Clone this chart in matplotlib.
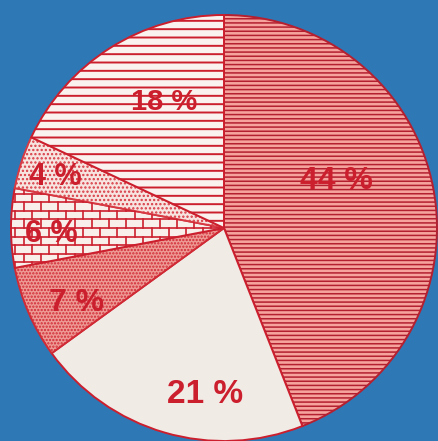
import matplotlib
matplotlib.use("Agg")
import matplotlib.pyplot as plt
import numpy as np

# slices clockwise from 12 o'clock
shares = [44, 21, 7, 6, 4, 18]
labels = ["44 %", "21 %", "7 %", "6 %", "4 %", "18 %"]
# label centres, in pie radii from the centre
label_xy = [(0.53, 0.22), (-0.09, -0.78), (-0.69, -0.35),
            (-0.81, -0.03), (-0.79, 0.24), (-0.28, 0.59)]
label_size = [23, 24, 23, 22, 22, 21]

BLUE = "#2f78b6"
RED = "#cc1f2e"
fills = ["#f5a39c", "#f1ebe6", "#ee9a95", "#f8eeea", "#f7e4e0", "#faf2ee"]
hatches = ["----", None, ".....", None, "....", "--"]
hatch_colors = ["#b52030", RED, "#d02a35", RED, "#d83a44", RED]

fig = plt.figure(figsize=(4.39, 4.41), dpi=100)
fig.patch.set_facecolor(BLUE)
ax = fig.add_axes([0, 0, 1, 1])
ax.set_facecolor(BLUE)

wedges, _ = ax.pie(shares, startangle=90, counterclock=False, radius=1.0,
                   colors=fills, wedgeprops=dict(linewidth=1.4))
for w, h, c in zip(wedges, hatches, hatch_colors):
    w.set_edgecolor(c)
    if h:
        w.set_hatch(h)
    if hasattr(w, "set_hatch_linewidth"):
        w.set_hatch_linewidth(1.4 if h == "--" else 1.1)

# brick pattern for the 6 % slice, clipped to its wedge
brick = wedges[3]
row_h, brick_w = 0.04, 0.08
for i, y in enumerate(np.arange(-0.4, 0.4, row_h)):
    ln, = ax.plot([-1.1, 0.1], [y, y], color=RED, lw=1.2)
    ln.set_clip_path(brick)
    off = 0 if i % 2 == 0 else brick_w / 2
    for x in np.arange(-1.1 + off, 0.1, brick_w):
        seg, = ax.plot([x, x], [y, y + row_h], color=RED, lw=1.2)
        seg.set_clip_path(brick)

for (x, y), txt, fs in zip(label_xy, labels, label_size):
    ax.text(x, y, txt, ha="center", va="center", color=RED, fontsize=fs,
            fontweight="bold", family=["Liberation Sans", "DejaVu Sans"])

ax.set_aspect("auto")
ax.set_xlim(-1.0516, 1.0094)
ax.set_ylim(-1.0, 1.0704)
ax.axis("off")

fig.savefig("out.png", dpi=100, facecolor=BLUE)
